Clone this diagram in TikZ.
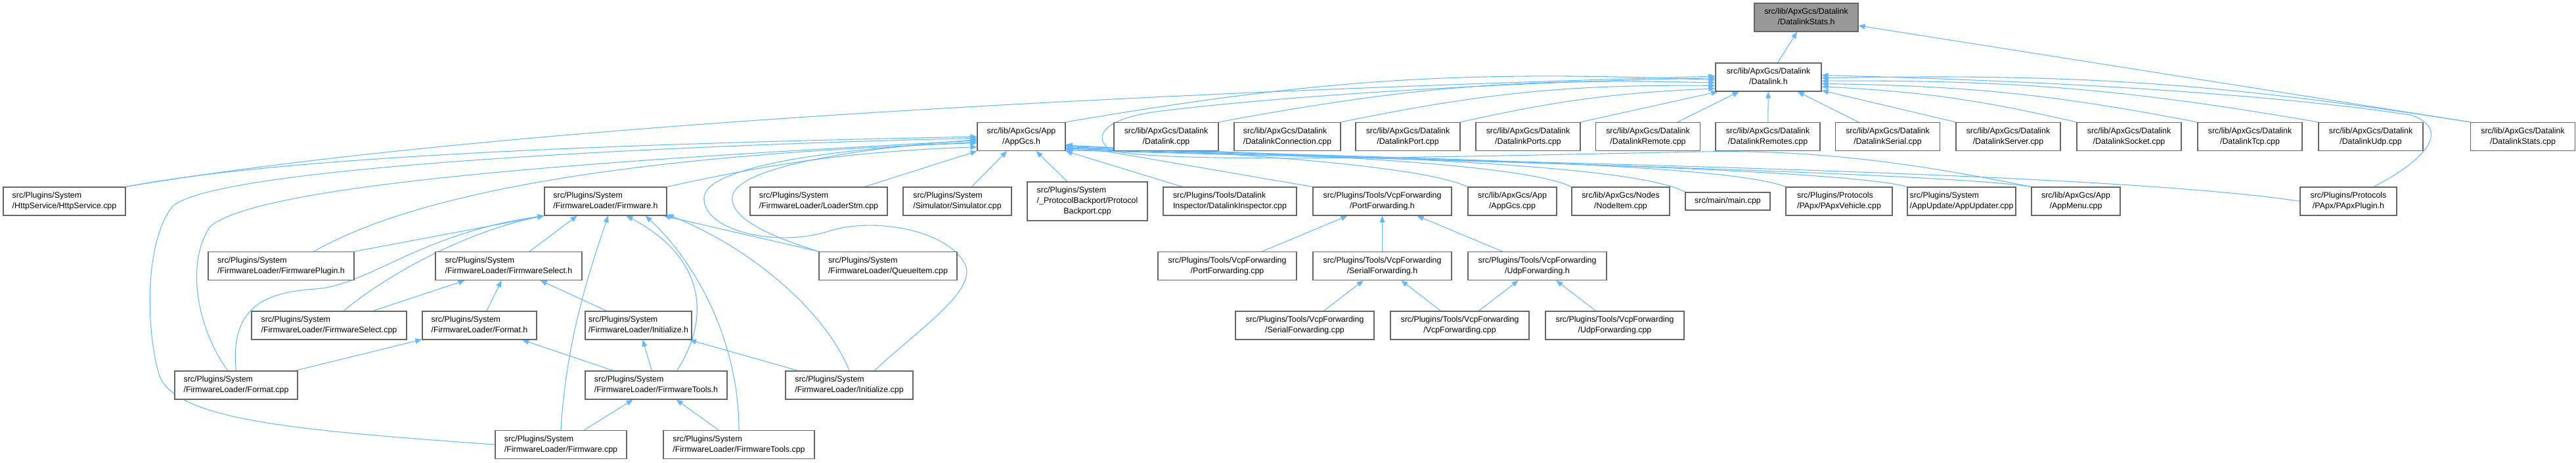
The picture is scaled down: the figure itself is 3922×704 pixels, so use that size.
\documentclass[tikz,border=0pt]{standalone}
\usepackage{fontspec}
\setmainfont{Liberation Sans}
\usetikzlibrary{positioning, arrows.meta, backgrounds}
\definecolor{depblue}{RGB}{99, 184, 255}
\definecolor{framegray}{RGB}{102, 102, 102}
\definecolor{rootgray}{RGB}{153, 153, 153}
\newcommand{\twolbl}[2]{\begin{tabular}{@{}l@{}}#1\\\multicolumn{1}{@{}c@{}}{#2}\end{tabular}}

\begin{document}
\begin{tikzpicture}[
    x=0.75pt, y=-0.75pt,
    srcfile/.style={
      draw=framegray, fill=white, line width=0.9pt, inner sep=0pt,
      minimum height=32.25pt, font=\fontsize{9.3}{12}\selectfont
    },
    rootfile/.style={srcfile, fill=rootgray},
    incl/.style={-{Triangle[length=7.5pt, width=6pt]}, depblue, line width=0.8pt},
]
    \useasboundingbox (0,0) rectangle (3922,704);

    % Root header and Datalink.h
    \node[rootfile, minimum width=118.5pt] (stats_h) at (2750,26.5) {\twolbl{src/lib/ApxGcs/Datalink}{/DatalinkStats.h}};
    \node[srcfile, minimum width=120.75pt] (datalink_h) at (2692.5,117.5) {\twolbl{src/lib/ApxGcs/Datalink}{/Datalink.h}};

    % Row of Datalink sources
    \node[srcfile, minimum width=100.5pt] (appgcs_h) at (1555,208) {\twolbl{src/lib/ApxGcs/App}{/AppGcs.h}};
    \node[srcfile, minimum width=119.25pt] (dl_cpp) at (1775.5,208) {\twolbl{src/lib/ApxGcs/Datalink}{/Datalink.cpp}};
    \node[srcfile, minimum width=121.5pt] (dl_conn) at (1960,208) {\twolbl{src/lib/ApxGcs/Datalink}{/DatalinkConnection.cpp}};
    \node[srcfile, minimum width=119.25pt] (dl_port) at (2143.5,208) {\twolbl{src/lib/ApxGcs/Datalink}{/DatalinkPort.cpp}};
    \node[srcfile, minimum width=119.25pt] (dl_ports) at (2326.5,208) {\twolbl{src/lib/ApxGcs/Datalink}{/DatalinkPorts.cpp}};
    \node[srcfile, minimum width=119.25pt] (dl_remote) at (2509,208) {\twolbl{src/lib/ApxGcs/Datalink}{/DatalinkRemote.cpp}};
    \node[srcfile, minimum width=119.25pt] (dl_remotes) at (2691.5,208) {\twolbl{src/lib/ApxGcs/Datalink}{/DatalinkRemotes.cpp}};
    \node[srcfile, minimum width=119.25pt] (dl_serial) at (2874,208) {\twolbl{src/lib/ApxGcs/Datalink}{/DatalinkSerial.cpp}};
    \node[srcfile, minimum width=119.25pt] (dl_server) at (3057.5,208) {\twolbl{src/lib/ApxGcs/Datalink}{/DatalinkServer.cpp}};
    \node[srcfile, minimum width=119.25pt] (dl_socket) at (3241.5,208) {\twolbl{src/lib/ApxGcs/Datalink}{/DatalinkSocket.cpp}};
    \node[srcfile, minimum width=119.25pt] (dl_tcp) at (3425.5,208) {\twolbl{src/lib/ApxGcs/Datalink}{/DatalinkTcp.cpp}};
    \node[srcfile, minimum width=119.25pt] (dl_udp) at (3609.5,208) {\twolbl{src/lib/ApxGcs/Datalink}{/DatalinkUdp.cpp}};
    \node[srcfile, minimum width=119.25pt] (dl_stats) at (3841,208) {\twolbl{src/lib/ApxGcs/Datalink}{/DatalinkStats.cpp}};

    % Files including AppGcs.h
    \node[srcfile, minimum width=139.5pt] (http_cpp) at (98,306.5) {\twolbl{src/Plugins/System}{/HttpService/HttpService.cpp}};
    \node[srcfile, minimum width=139.5pt] (fw_h) at (922,306.5) {\twolbl{src/Plugins/System}{/FirmwareLoader/Firmware.h}};
    \node[srcfile, minimum width=156.75pt] (loaderstm) at (1246.5,306.5) {\twolbl{src/Plugins/System}{/FirmwareLoader/LoaderStm.cpp}};
    \node[srcfile, minimum width=123.75pt] (simulator) at (1457.5,306.5) {\twolbl{src/Plugins/System}{/Simulator/Simulator.cpp}};
    \node[srcfile, minimum width=137.25pt, minimum height=44.25pt] (backport) at (1655.5,306.5)
      {\begin{tabular}{@{}l@{}}src/Plugins/System\\/\_ProtocolBackport/Protocol\\\multicolumn{1}{@{}c@{}}{Backport.cpp}\end{tabular}};
    \node[srcfile, minimum width=152.25pt] (inspector) at (1872.5,306.5) {\twolbl{src/Plugins/Tools/Datalink}{Inspector/DatalinkInspector.cpp}};
    \node[srcfile, minimum width=158.25pt] (portfwd_h) at (2104.5,306.5) {\twolbl{src/Plugins/Tools/VcpForwarding}{/PortForwarding.h}};
    \node[srcfile, minimum width=101.25pt] (appgcs_cpp) at (2302.5,306.5) {\twolbl{src/lib/ApxGcs/App}{/AppGcs.cpp}};
    \node[srcfile, minimum width=111.75pt] (nodeitem) at (2467.5,306.5) {\twolbl{src/lib/ApxGcs/Nodes}{/NodeItem.cpp}};
    \node[srcfile, minimum width=96.75pt, minimum height=20.25pt] (main_cpp) at (2630.5,306.5) {src/main/main.cpp};
    \node[srcfile, minimum width=121.5pt] (papxvehicle) at (2800,306.5) {\twolbl{src/Plugins/Protocols}{/PApx/PApxVehicle.cpp}};
    \node[srcfile, minimum width=123.75pt] (appupdater) at (2986.5,306.5) {\twolbl{src/Plugins/System}{/AppUpdate/AppUpdater.cpp}};
    \node[srcfile, minimum width=101.25pt] (appmenu) at (3160.5,306.5) {\twolbl{src/lib/ApxGcs/App}{/AppMenu.cpp}};
    \node[srcfile, minimum width=110.25pt] (papxplugin) at (3575.5,306.5) {\twolbl{src/Plugins/Protocols}{/PApx/PApxPlugin.h}};

    % FirmwareLoader and VcpForwarding
    \node[srcfile, minimum width=166.5pt] (fwplugin_h) at (428,405) {\twolbl{src/Plugins/System}{/FirmwareLoader/FirmwarePlugin.h}};
    \node[srcfile, minimum width=167.25pt] (fwselect_h) at (774.5,405) {\twolbl{src/Plugins/System}{/FirmwareLoader/FirmwareSelect.h}};
    \node[srcfile, minimum width=157.5pt] (queueitem) at (1352,405) {\twolbl{src/Plugins/System}{/FirmwareLoader/QueueItem.cpp}};
    \node[srcfile, minimum width=158.25pt] (portfwd_cpp) at (1868.5,405) {\twolbl{src/Plugins/Tools/VcpForwarding}{/PortForwarding.cpp}};
    \node[srcfile, minimum width=158.25pt] (serialfwd_h) at (2104.5,405) {\twolbl{src/Plugins/Tools/VcpForwarding}{/SerialForwarding.h}};
    \node[srcfile, minimum width=158.25pt] (udpfwd_h) at (2340.5,405) {\twolbl{src/Plugins/Tools/VcpForwarding}{/UdpForwarding.h}};

    \node[srcfile, minimum width=177pt] (fwselect_cpp) at (501,495.5) {\twolbl{src/Plugins/System}{/FirmwareLoader/FirmwareSelect.cpp}};
    \node[srcfile, minimum width=130.5pt] (format_h) at (730,495.5) {\twolbl{src/Plugins/System}{/FirmwareLoader/Format.h}};
    \node[srcfile, minimum width=121.5pt] (initialize_h) at (972,495.5) {\twolbl{src/Plugins/System}{/FirmwareLoader/Initialize.h}};
    \node[srcfile, minimum width=158.25pt] (serialfwd_cpp) at (1986.5,495.5) {\twolbl{src/Plugins/Tools/VcpForwarding}{/SerialForwarding.cpp}};
    \node[srcfile, minimum width=158.25pt] (vcpfwd_cpp) at (2222.5,495.5) {\twolbl{src/Plugins/Tools/VcpForwarding}{/VcpForwarding.cpp}};
    \node[srcfile, minimum width=158.25pt] (udpfwd_cpp) at (2458.5,495.5) {\twolbl{src/Plugins/Tools/VcpForwarding}{/UdpForwarding.cpp}};

    \node[srcfile, minimum width=140.25pt] (format_cpp) at (359.5,586.5) {\twolbl{src/Plugins/System}{/FirmwareLoader/Format.cpp}};
    \node[srcfile, minimum width=162pt] (fwtools_h) at (999,586.5) {\twolbl{src/Plugins/System}{/FirmwareLoader/FirmwareTools.h}};
    \node[srcfile, minimum width=145.5pt] (initialize_cpp) at (1293,586.5) {\twolbl{src/Plugins/System}{/FirmwareLoader/Initialize.cpp}};

    \node[srcfile, minimum width=150pt] (firmware_cpp) at (854,677) {\twolbl{src/Plugins/System}{/FirmwareLoader/Firmware.cpp}};
    \node[srcfile, minimum width=172.5pt] (fwtools_cpp) at (1125,677) {\twolbl{src/Plugins/System}{/FirmwareLoader/FirmwareTools.cpp}};

    \begin{scope}[on background layer]
    % Into DatalinkStats.h
    \draw[incl] (datalink_h) -- (stats_h);
    \draw[incl] (dl_stats.north west) -- (stats_h);

    % Into Datalink.h
    \draw[incl] (http_cpp.north east) .. controls (600,215) and (1400,150) .. (datalink_h.179);
    \draw[incl] (appmenu.north west) .. controls (2900,245) and (2750,228) .. (2593,231)
      .. controls (2300,236) and (1760,252) .. (1690,228)
      .. controls (1665,210) and (1675,182) .. (1760,170)
      .. controls (2000,140) and (2400,122) .. (datalink_h.181);
    \draw[incl] (appgcs_h.north east) to[bend left=6] (datalink_h.183);
    \draw[incl] (dl_cpp.north east) to[bend left=6] (datalink_h.186);
    \draw[incl] (dl_conn.north east) to[bend left=6] (datalink_h.189);
    \draw[incl] (dl_port.north east) to[bend left=5] (datalink_h.192);
    \draw[incl] (dl_ports.north east) -- (datalink_h.196);
    \draw[incl] (dl_remote) -- (datalink_h);
    \draw[incl] (dl_remotes) -- (datalink_h);
    \draw[incl] (dl_serial) -- (datalink_h);
    \draw[incl] (dl_server.north west) -- (datalink_h.-14);
    \draw[incl] (dl_socket.north west) to[bend right=5] (datalink_h.-10);
    \draw[incl] (dl_tcp.north west) to[bend right=5] (datalink_h.-7);
    \draw[incl] (dl_udp.north west) to[bend right=5] (datalink_h.-4);
    \draw[incl] (dl_stats.north west) to[bend right=5] (datalink_h.-1);
    \draw[incl] (papxplugin.30) .. controls (3700,240) and (3730,195) .. (3670,175)
      .. controls (3400,135) and (3000,120) .. (datalink_h.2);

    % Into AppGcs.h
    \draw[incl] (http_cpp.north east) .. controls (450,235) and (1000,218) .. (appgcs_h.180);
    \draw[incl] (firmware_cpp.west) .. controls (450,655) and (265,640) .. (242,570)
      .. controls (222,500) and (220,370) .. (262,315)
      .. controls (320,255) and (1000,222) .. (appgcs_h.182);
    \draw[incl] (format_cpp.120) .. controls (300,500) and (282,400) .. (320,345)
      .. controls (400,275) and (1000,240) .. (appgcs_h.185);
    \draw[incl] (fwplugin_h.24) .. controls (650,285) and (1000,235) .. (appgcs_h.188);
    \draw[incl] (fw_h.north east) to[bend left=5] (appgcs_h.193);
    \draw[incl] (queueitem.north west) .. controls (1180,362) and (1112,335) .. (1115,300)
      .. controls (1120,255) and (1300,226) .. (appgcs_h.184);
    \draw[incl] (initialize_cpp.30) .. controls (1400,500) and (1492,440) .. (1468,400)
      .. controls (1440,350) and (1330,330) .. (1262,352)
      .. controls (1180,378) and (1068,350) .. (1072,300)
      .. controls (1076,255) and (1260,226) .. (appgcs_h.187);
    \draw[incl] (loaderstm) -- (appgcs_h.south west);
    \draw[incl] (simulator) -- (appgcs_h);
    \draw[incl] (backport) -- (appgcs_h);
    \draw[incl] (inspector) -- (appgcs_h.south east);
    \draw[incl] (portfwd_h.north west) -- (appgcs_h.-10);
    \draw[incl] (appgcs_cpp.north west) .. controls (2160,250) and (1850,232) .. (appgcs_h.-11);
    \draw[incl] (nodeitem.north west) .. controls (2310,245) and (1900,232) .. (appgcs_h.-12);
    \draw[incl] (main_cpp.north west) .. controls (2480,245) and (1950,235) .. (appgcs_h.-13);
    \draw[incl] (papxvehicle.north west) .. controls (2620,245) and (2000,238) .. (appgcs_h.-14);
    \draw[incl] (appupdater.north west) .. controls (2800,255) and (2050,240) .. (appgcs_h.-15);
    \draw[incl] (appmenu.north west) .. controls (2950,262) and (2100,242) .. (appgcs_h.-16);
    \draw[incl] (papxplugin.west) .. controls (3200,260) and (2200,245) .. (appgcs_h.-17);

    % Into Firmware.h
    \draw[incl] (fwplugin_h.north east) -- (fw_h.south west);
    \draw[incl] (fwselect_h.35) -- (fw_h.-153);
    \draw[incl] (fwselect_cpp.45) .. controls (600,410) and (720,350) .. (fw_h.south west);
    \draw[incl] (format_cpp.north) .. controls (350,470) and (400,445) .. (480,440)
      .. controls (560,435) and (640,355) .. (fw_h.south west);
    \draw[incl] (firmware_cpp.north) .. controls (862,520) and (895,420) .. (fw_h.-80);
    \draw[incl] (fwtools_h.35) .. controls (1085,480) and (1070,390) .. (fw_h.-35);
    \draw[incl] (fwtools_cpp.north) .. controls (1125,520) and (1060,400) .. (fw_h.-20);
    \draw[incl] (queueitem.north west) -- (fw_h.-14);
    \draw[incl] (initialize_cpp.north) .. controls (1260,480) and (1150,380) .. (fw_h.-12);

    % Inside FirmwareLoader
    \draw[incl] (fwselect_cpp) -- (fwselect_h);
    \draw[incl] (format_h) -- (fwselect_h);
    \draw[incl] (initialize_h) -- (fwselect_h);
    \draw[incl] (format_cpp) -- (format_h);
    \draw[incl] (fwtools_h) -- (format_h);
    \draw[incl] (fwtools_h) -- (initialize_h);
    \draw[incl] (initialize_cpp) -- (initialize_h);
    \draw[incl] (firmware_cpp) -- (fwtools_h);
    \draw[incl] (fwtools_cpp) -- (fwtools_h);

    % VcpForwarding
    \draw[incl] (portfwd_cpp) -- (portfwd_h);
    \draw[incl] (serialfwd_h) -- (portfwd_h);
    \draw[incl] (udpfwd_h) -- (portfwd_h);
    \draw[incl] (serialfwd_cpp) -- (serialfwd_h);
    \draw[incl] (vcpfwd_cpp) -- (serialfwd_h);
    \draw[incl] (vcpfwd_cpp) -- (udpfwd_h);
    \draw[incl] (udpfwd_cpp) -- (udpfwd_h);
    \end{scope}
\end{tikzpicture}
\end{document}
